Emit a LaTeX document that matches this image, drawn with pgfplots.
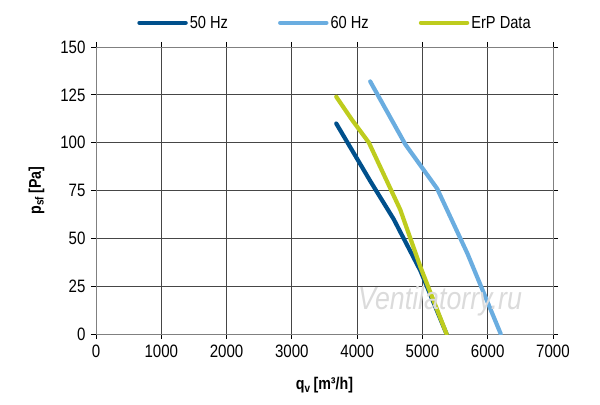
\documentclass[border=0pt]{standalone}
\usepackage{pgfplots}
\pgfplotsset{compat=1.18}
\usepackage{fontspec}
\setmainfont{Liberation Sans}[FakeStretch=0.84]
\definecolor{c50}{RGB}{0,80,140}
\definecolor{c60}{RGB}{106,173,224}
\definecolor{cerp}{RGB}{190,204,30}
\definecolor{gridc}{RGB}{70,70,70}
\begin{document}
\begin{tikzpicture}[x=1bp,y=1bp]
\path[use as bounding box] (-96bp,-71bp) rectangle (504bp,334bp);
\begin{axis}[
  at={(0,0)}, anchor=south west,
  width=457bp, height=287bp, scale only axis,
  xmin=0, xmax=7000, ymin=0, ymax=150,
  xtick={0,1000,...,7000}, ytick={0,25,...,150},
  grid=major,
  major grid style={gridc, line width=0.8bp},
  axis line style={gray, line width=0.8bp},
  tick align=outside, major tick length=5bp,
  tick style={black, line width=0.8bp},
  /pgf/number format/assume math mode=true,
  /pgf/number format/1000 sep={},
  ticklabel style={font=\fontsize{18}{20}\selectfont},
  xticklabel style={yshift=-2bp},
  yticklabel style={xshift=-2bp},
  xlabel={\textbf{q\textsubscript{v}\,[m³/h]}},
  ylabel={\textbf{p\textsubscript{sf}\,[Pa]}},
  label style={font=\fontsize{17}{19}\selectfont},
  xlabel style={at={(axis description cs:0.5,-0.178)}, anchor=center},
  ylabel style={at={(axis description cs:-0.13,0.5)}, anchor=center, rotate=0},
  legend columns=3,
  legend style={at={(axis description cs:0.523,1.084)}, anchor=center, draw=none,
    fill=none, inner sep=0pt, font=\fontsize{17.5}{19}\selectfont,
    nodes={inner sep=2bp},
    /tikz/every even column/.append style={column sep=48bp}},
  legend image code/.code={\draw[#1, line width=4.5bp, line cap=round] (0bp,0bp) -- (46bp,0bp);},
  every axis plot/.append style={line width=4.2bp, line cap=round, line join=round},
]
\addplot[c50] coordinates {(3680,110) (4200,80) (4560,60) (4970,33) (5370,0)};
\addlegendentry{50 Hz}
\addplot[c60] coordinates {(4200,132) (4740,99) (5225,76) (5690,42) (6200,0)};
\addlegendentry{60 Hz}
\addplot[cerp] coordinates {(3680,124) (3920,112) (4180,100) (4660,65) (4970,35) (5370,0)};
\addlegendentry{ErP Data}
\node[text=gray!28, font=\itshape\fontsize{32}{34}\selectfont, anchor=center] at (axis cs:5270,17) {Ventilatorry.ru};
\end{axis}
\end{tikzpicture}
\end{document}
